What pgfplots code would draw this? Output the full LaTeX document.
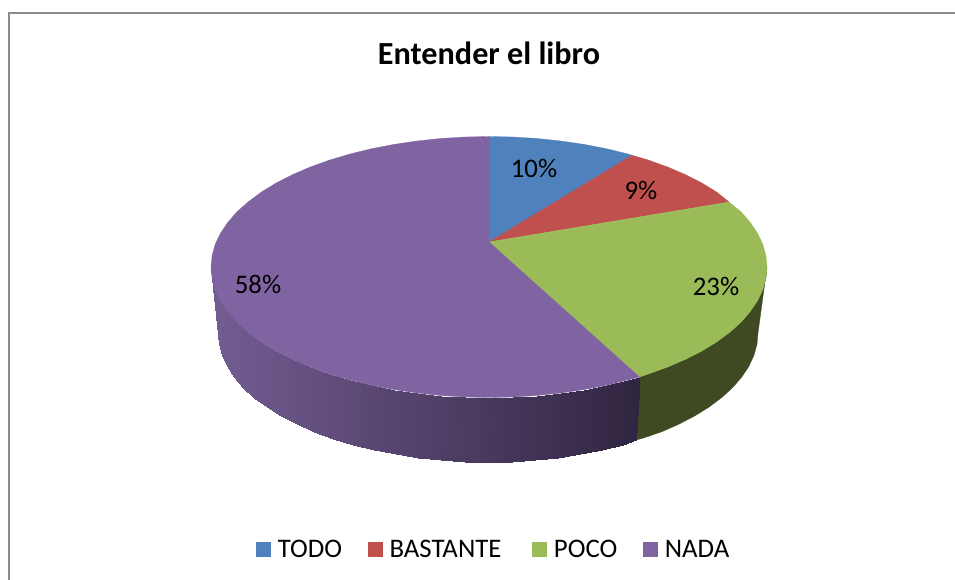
\documentclass[border=0pt]{standalone}
\usepackage{fontspec}
\setmainfont{Carlito}
\usepackage{pgfplots}
\pgfplotsset{compat=1.18}
\definecolor{cTodo}{RGB}{79,129,189}
\definecolor{cBast}{RGB}{192,80,77}
\definecolor{cPoco}{RGB}{155,187,89}
\definecolor{cNada}{RGB}{128,100,162}
\definecolor{cPocoSide}{RGB}{63,74,34}
\definecolor{cFrame}{RGB}{140,140,140}
\begin{document}
\begin{tikzpicture}
\path[use as bounding box] (0,0) rectangle (955pt,580pt);
\begin{axis}[
  at={(0,0)}, anchor=south west,
  scale only axis, width=955pt, height=580pt,
  xmin=0, xmax=955, ymin=0, ymax=580, y dir=reverse,
  hide axis, clip=false,
  colormap={sidepurple}{rgb255(0cm)=(114,92,145); rgb255(1cm)=(48,37,64)},
  point meta min=218, point meta max=640,
  legend columns=4,
  legend cell align=left,
  legend image code/.code={\draw[#1,draw=none] (0pt,-7.5pt) rectangle (15pt,7.5pt);},
  legend style={
    at={(axis cs:493.5,549.5)}, anchor=center, draw=none, fill=none,
    inner sep=0pt, outer sep=0pt,
    font=\fontsize{26.8}{30}\selectfont,
    /tikz/every even column/.append style={column sep=23.5pt},
    /tikz/every odd column/.append style={column sep=5pt},
  },
]
% chart frame
\addplot[forget plot, cFrame, line width=2pt, mark=none] coordinates {(8.5,580)(8.5,13.5)(955,13.5)};

% side of the green slice
\addplot[forget plot, fill=cPocoSide, draw=cPocoSide, line width=.3pt, mark=none] coordinates {
(639.5,377)(648.5,373.9)(667.7,367)(685.6,359.3)(702,350.9)(716.7,341.9)(729.8,332.3)(741,322.2)(750.2,311.6)(757.5,300.8)(762.8,289.7)(765.9,278.4)(767,267)
(758,333)(757,344.2)(753.9,355.4)(748.8,366.4)(741.7,377.1)(732.7,387.5)(721.8,397.5)(709.2,407)(694.8,415.9)(678.9,424.2)(661.6,431.8)(642.9,438.2)(636,440)
} --cycle;

% side of the purple slice: strips shaded left to right
\addplot[forget plot, patch, patch type=rectangle, shader=interp, point meta=x] table[x=x,y=y] {
x y
639.5 377
628 380
623 444.7
636 440
628 380
606.5 385.3
602.1 449.9
623 444.7
606.5 385.3
584.1 389.6
580.3 454.2
602.1 449.9
584.1 389.6
560.9 393
557.9 457.6
580.3 454.2
560.9 393
537.3 395.5
534.9 460
557.9 457.6
537.3 395.5
513.2 397
511.5 461.5
534.9 460
513.2 397
489 397.5
488 462
511.5 461.5
489 397.5
464.8 397
464.5 461.5
488 462
464.8 397
440.7 395.5
441.1 460
464.5 461.5
440.7 395.5
417.1 393
418.1 457.6
441.1 460
417.1 393
393.9 389.6
395.7 454.2
418.1 457.6
393.9 389.6
371.5 385.3
373.9 449.9
395.7 454.2
371.5 385.3
350 380
353 444.7
373.9 449.9
350 380
329.5 373.9
333.1 438.7
353 444.7
329.5 373.9
310.3 367
314.4 431.8
333.1 438.7
310.3 367
292.4 359.3
297.1 424.2
314.4 431.8
292.4 359.3
276 350.9
281.2 415.9
297.1 424.2
276 350.9
261.3 341.9
266.8 407
281.2 415.9
261.3 341.9
248.2 332.3
254.2 397.5
266.8 407
248.2 332.3
237 322.2
243.3 387.5
254.2 397.5
237 322.2
227.8 311.6
234.3 377.1
243.3 387.5
227.8 311.6
220.5 300.8
227.2 366.4
234.3 377.1
220.5 300.8
215.2 289.7
222.1 355.4
227.2 366.4
215.2 289.7
212.1 278.4
219 344.2
222.1 355.4
212.1 278.4
211 267
218 333
219 344.2
};

% top faces
\addplot[fill=cTodo, draw=cTodo, line width=.3pt, mark=none] coordinates {
(489,242)(489,136.5)(513.2,137)(537.3,138.5)(560.9,141)(584.1,144.4)(606.5,148.7)(628,154)(632,155.3)
} --cycle;
\addlegendentry{TODO}
\addplot[fill=cBast, draw=cBast, line width=.3pt, mark=none] coordinates {
(489,242)(632,155.3)(648.5,160.1)(667.7,167)(685.6,174.7)(702,183.1)(716.7,192.1)(729,202)
} --cycle;
\addlegendentry{BASTANTE\rule{5pt}{0pt}}
\addplot[fill=cPoco, draw=cPoco, line width=.3pt, mark=none] coordinates {
(489,242)(729,202)(741,211.8)(750.2,222.4)(757.5,233.2)(762.8,244.3)(765.9,255.6)(767,267)(765.9,278.4)(762.8,289.7)(757.5,300.8)(750.2,311.6)(741,322.2)(729.8,332.3)(716.7,341.9)(702,350.9)(685.6,359.3)(667.7,367)(648.5,373.9)(639.5,377)
} --cycle;
\addlegendentry{POCO}
\addplot[fill=cNada, draw=cNada, line width=.3pt, mark=none] coordinates {
(489,242)(639.5,377)(628,380)(606.5,385.3)(584.1,389.6)(560.9,393)(537.3,395.5)(513.2,397)(489,397.5)(464.8,397)(440.7,395.5)(417.1,393)(393.9,389.6)(371.5,385.3)(350,380)(329.5,373.9)(310.3,367)(292.4,359.3)(276,350.9)(261.3,341.9)(248.2,332.3)(237,322.2)(227.8,311.6)(220.5,300.8)(215.2,289.7)(212.1,278.4)(211,267)(212.1,255.6)(215.2,244.3)(220.5,233.2)(227.8,222.4)(237,211.8)(248.2,201.9)(261.3,192.1)(276,183.1)(292.4,174.7)(310.3,167)(329.5,160.1)(350,154)(371.5,148.7)(393.9,144.4)(417.1,141)(440.7,138.5)(464.8,137)(489,136.5)
} --cycle;
\addlegendentry{NADA}

% title and data labels
\node[font=\fontsize{32.2}{36}\selectfont\bfseries] at (axis cs:489,53.5) {Entender el libro};
\node[font=\fontsize{26.8}{30}\selectfont] at (axis cs:534,168) {10\%};
\node[font=\fontsize{26.8}{30}\selectfont] at (axis cs:641,190) {9\%};
\node[font=\fontsize{26.8}{30}\selectfont] at (axis cs:716,286) {23\%};
\node[font=\fontsize{26.8}{30}\selectfont] at (axis cs:258,284) {58\%};
\end{axis}
\end{tikzpicture}
\end{document}
